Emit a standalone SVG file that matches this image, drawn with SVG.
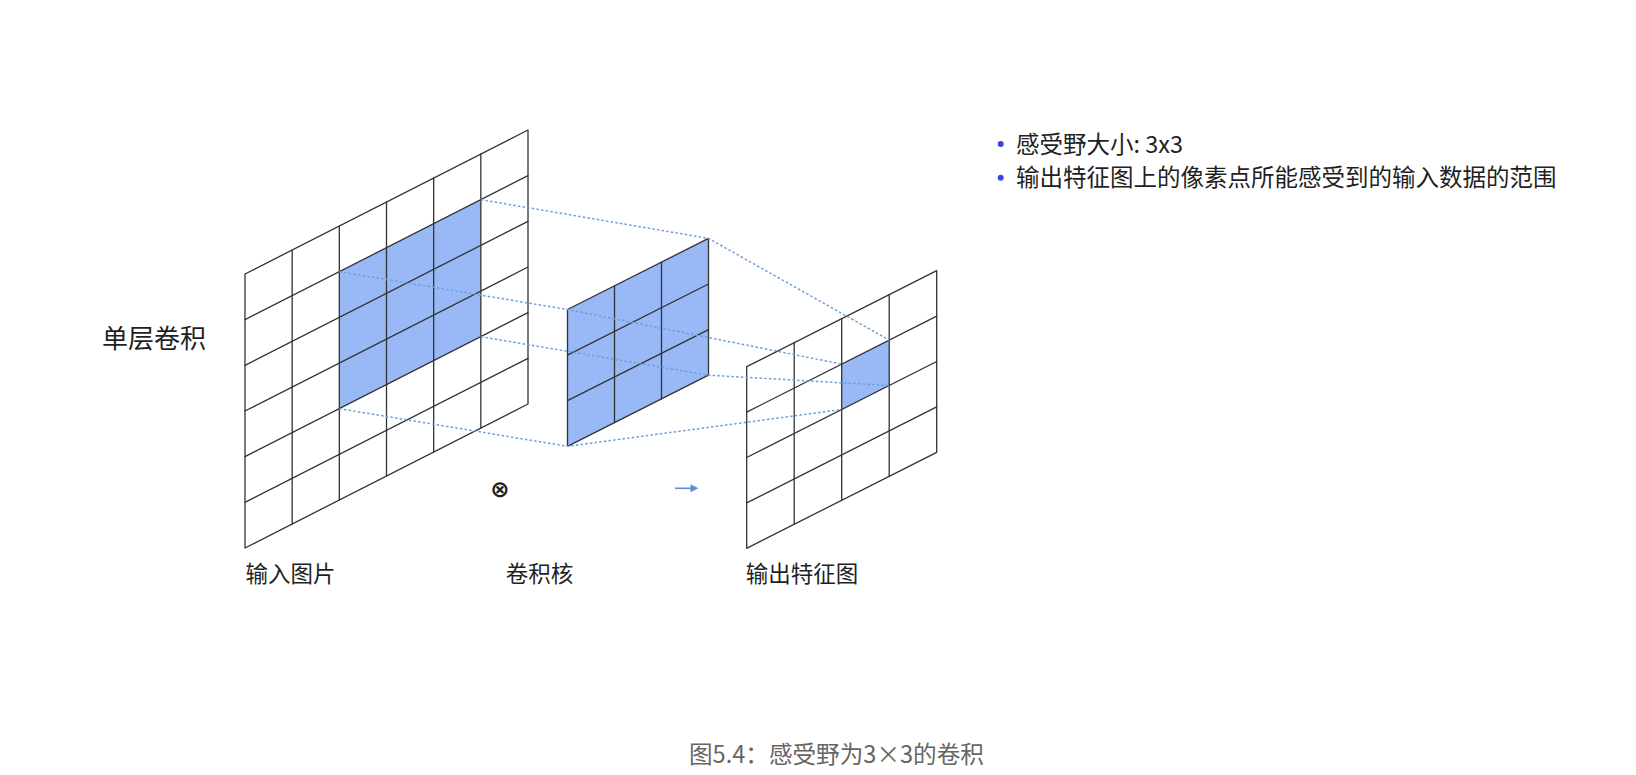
<svg xmlns="http://www.w3.org/2000/svg" width="1636" height="775" viewBox="0 0 1636 775">
<style>
.bg{fill:#ffffff}
.cell{fill:#ffffff}
.hl{fill:#98b8f6}
.grid{fill:none;stroke:#333333;stroke-width:1.3;stroke-linejoin:round;stroke-linecap:round}
.dot{fill:none;stroke:#6f9fd8;stroke-width:1.5;stroke-dasharray:2.5 2.2}
.lbl{font-family:"Noto Sans CJK SC","Noto Sans",sans-serif;fill:#1f1f1f}
.cap{font-family:"Noto Sans CJK SC","Noto Sans",sans-serif;fill:#666666;font-size:23.6px}
.bul{fill:#3b45d9}
</style>
<rect class="bg" x="0" y="0" width="1636" height="775"/>

<g id="title">
<text class="lbl" x="102" y="348" font-size="26">单层卷积</text>
</g>

<g id="input-image">
<path class="cell" d="M245,274 L528,130 L528,404 L245,548 Z"/>
<path class="hl" d="M339.33,271.67 L480.83,199.67 L480.83,336.67 L339.33,408.67 Z"/>
<g class="grid">
<path d="M245,274 L528,130 L528,404 L245,548 Z"/>
<path d="M292.17,250 V524 M339.33,226 V500 M386.5,202 V476 M433.67,178 V452 M480.83,154 V428"/>
<path d="M245,319.67 L528,175.67 M245,365.33 L528,221.33 M245,411 L528,267 M245,456.67 L528,312.67 M245,502.33 L528,358.33"/>
</g>
<text class="lbl" x="245.5" y="581.5" font-size="22.5">输入图片</text>
</g>

<g id="kernel">
<path class="hl" d="M567.5,309.5 L708.5,238.4 L708.5,375.2 L567.5,446.3 Z"/>
<g class="grid">
<path d="M567.5,309.5 L708.5,238.4 L708.5,375.2 L567.5,446.3 Z"/>
<path d="M614.5,285.8 V422.6 M661.5,262.1 V398.9"/>
<path d="M567.5,355.1 L708.5,284 M567.5,400.7 L708.5,329.6"/>
</g>
<text class="lbl" x="505.7" y="581.5" font-size="22.5">卷积核</text>
</g>

<g id="output-feature-map">
<path class="cell" d="M746.7,366.7 L936.7,270.7 L936.7,452.3 L746.7,548.3 Z"/>
<path class="hl" d="M841.7,364.1 L889.2,340.1 L889.2,385.5 L841.7,409.5 Z"/>
<g class="grid">
<path d="M746.7,366.7 L936.7,270.7 L936.7,452.3 L746.7,548.3 Z"/>
<path d="M794.2,342.7 V524.3 M841.7,318.7 V500.3 M889.2,294.7 V476.3"/>
<path d="M746.7,412.1 L936.7,316.1 M746.7,457.5 L936.7,361.5 M746.7,502.9 L936.7,406.9"/>
</g>
<text class="lbl" x="745.7" y="581.5" font-size="22.5">输出特征图</text>
</g>

<g id="operators">
<text x="500" y="497.3" font-family="DejaVu Sans, sans-serif" font-size="23" font-weight="bold" text-anchor="middle" fill="#222222">⊗</text>
<line x1="675" y1="488.3" x2="692" y2="488.3" stroke="#5b8fd6" stroke-width="1.6"/>
<polygon points="698.5,488.3 690.5,484.3 690.5,492.3" fill="#5b8fd6"/>
</g>

<g id="connectors">
<polyline class="dot" points="480.83,199.67 708.5,238.4 889.2,340.1"/>
<polyline class="dot" points="339.33,271.67 567.5,309.5 841.7,364.1"/>
<polyline class="dot" points="480.83,336.67 708.5,375.2 889.2,385.5"/>
<polyline class="dot" points="339.33,408.67 567.5,446.3 841.7,409.5"/>
</g>

<g id="notes">
<circle class="bul" cx="1000.7" cy="144" r="3"/>
<text class="lbl" x="1016" y="152.7" font-size="23.5">感受野大小: 3x3</text>
<circle class="bul" cx="1000.7" cy="177.7" r="3"/>
<text class="lbl" x="1016" y="186.4" font-size="23.5">输出特征图上的像素点所能感受到的输入数据的范围</text>
</g>

<g id="caption">
<text class="cap" x="689" y="763.2">图5.4：感受野为3×3的卷积</text>
</g>
</svg>
